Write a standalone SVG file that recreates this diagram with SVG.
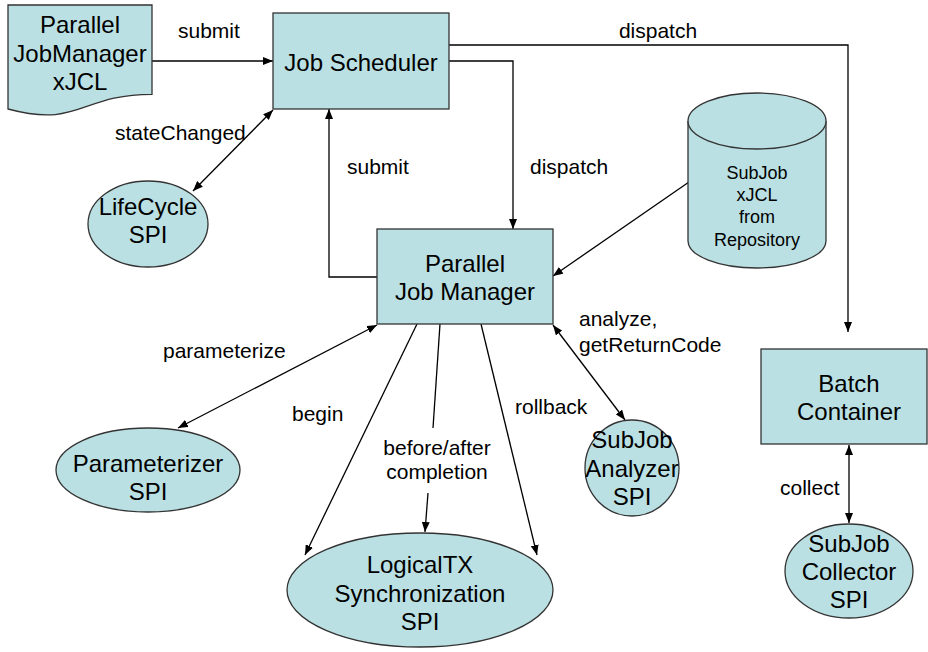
<svg xmlns="http://www.w3.org/2000/svg" width="928" height="652" viewBox="0 0 928 652">
  <defs>
    <marker id="arrow" viewBox="0 0 10 8" refX="10" refY="4" markerWidth="10" markerHeight="8" markerUnits="userSpaceOnUse" orient="auto-start-reverse">
      <path d="M0,0 L10,4 L0,8 Z" fill="#000"/>
    </marker>
    <style>
      .shape { fill: #bbe0e3; stroke: #333; stroke-width: 1.3; }
      .node { font-family: "Liberation Sans", Arial, sans-serif; font-size: 24px; fill: #000; text-anchor: middle; }
      .small { font-size: 18px; }
      .label { font-family: "Liberation Sans", Arial, sans-serif; font-size: 21px; fill: #000; }
      .mid { text-anchor: middle; }
      .edge { fill: none; stroke: #000; stroke-width: 1.3; }
      .one { marker-end: url(#arrow); }
      .two { marker-start: url(#arrow); marker-end: url(#arrow); }
    </style>
  </defs>
  <rect width="928" height="652" fill="#fff"/>

  <!-- connectors -->
  <g id="connectors">
    <path class="edge one" d="M152,61 H273"/>
    <path class="edge one" d="M449,45 H848 V332"/>
    <path class="edge one" d="M449,61 H513 V229"/>
    <path class="edge one" d="M377,277 H329 V109"/>
    <path class="edge two" d="M273,110 L193,191"/>
    <path class="edge one" d="M689,182 L553,276"/>
    <path class="edge two" d="M377,325 L178,428"/>
    <path class="edge one" d="M417,324 L305,555"/>
    <path class="edge" d="M440,324 L433,428"/>
    <path class="edge one" d="M428,493 L425,532"/>
    <path class="edge one" d="M481,324 L537,555"/>
    <path class="edge two" d="M553,325 L625,420"/>
    <path class="edge two" d="M849,445 L849,523"/>

    <text class="label" x="178" y="38">submit</text>
    <text class="label mid" x="658" y="38">dispatch</text>
    <text class="label small" x="115" y="140">stateChanged</text>
    <text class="label" x="347" y="174">submit</text>
    <text class="label" x="530" y="174">dispatch</text>
    <text class="label" x="163" y="358">parameterize</text>
    <text class="label" x="292" y="421">begin</text>
    <text class="label mid" x="437" y="455">before/after</text>
    <text class="label mid" x="437" y="479">completion</text>
    <text class="label" x="515" y="414">rollback</text>
    <text class="label" x="579" y="326">analyze,</text>
    <text class="label" x="579" y="352">getReturnCode</text>
    <text class="label" x="780" y="495">collect</text>
  </g>

  <g id="xjcl-document">
    <path class="shape" d="M8,5 H152 V94.3 C80,94.3 80,128.3 8,109 Z"/>
    <text class="node" x="80" y="33">Parallel</text>
    <text class="node" x="80" y="62">JobManager</text>
    <text class="node" x="80" y="90">xJCL</text>
  </g>

  <g id="job-scheduler">
    <rect class="shape" x="273" y="13" width="176" height="96"/>
    <text class="node" x="361" y="71">Job Scheduler</text>
  </g>

  <g id="lifecycle-spi">
    <ellipse class="shape" cx="148" cy="224" rx="60" ry="43"/>
    <text class="node" x="148" y="215">LifeCycle</text>
    <text class="node" x="148" y="243">SPI</text>
  </g>

  <g id="subjob-repository">
    <path class="shape" d="M688,121 V241 A69,27 0 0 0 826,241 V121"/>
    <ellipse class="shape" cx="757" cy="121" rx="69" ry="28"/>
    <text class="node small" x="757" y="179">SubJob</text>
    <text class="node small" x="757" y="201">xJCL</text>
    <text class="node small" x="757" y="223">from</text>
    <text class="node small" x="757" y="246">Repository</text>
  </g>

  <g id="parallel-job-manager">
    <rect class="shape" x="377" y="229" width="176" height="95"/>
    <text class="node" x="465" y="272">Parallel</text>
    <text class="node" x="465" y="300">Job Manager</text>
  </g>

  <g id="batch-container">
    <rect class="shape" x="761" y="349" width="166" height="95"/>
    <text class="node" x="849" y="392">Batch</text>
    <text class="node" x="849" y="420">Container</text>
  </g>

  <g id="parameterizer-spi">
    <ellipse class="shape" cx="148" cy="470" rx="92" ry="42"/>
    <text class="node" x="148" y="472">Parameterizer</text>
    <text class="node" x="148" y="500">SPI</text>
  </g>

  <g id="subjob-analyzer-spi">
    <ellipse class="shape" cx="632" cy="468" rx="47" ry="48"/>
    <text class="node" x="632" y="448">SubJob</text>
    <text class="node" x="632" y="477">Analyzer</text>
    <text class="node" x="632" y="505">SPI</text>
  </g>

  <g id="logicaltx-sync-spi">
    <ellipse class="shape" cx="420" cy="590" rx="133" ry="57"/>
    <text class="node" x="420" y="573">LogicalTX</text>
    <text class="node" x="420" y="602">Synchronization</text>
    <text class="node" x="420" y="630">SPI</text>
  </g>

  <g id="subjob-collector-spi">
    <ellipse class="shape" cx="849" cy="571" rx="64" ry="47"/>
    <text class="node" x="849" y="552">SubJob</text>
    <text class="node" x="849" y="580">Collector</text>
    <text class="node" x="849" y="608">SPI</text>
  </g>
</svg>
